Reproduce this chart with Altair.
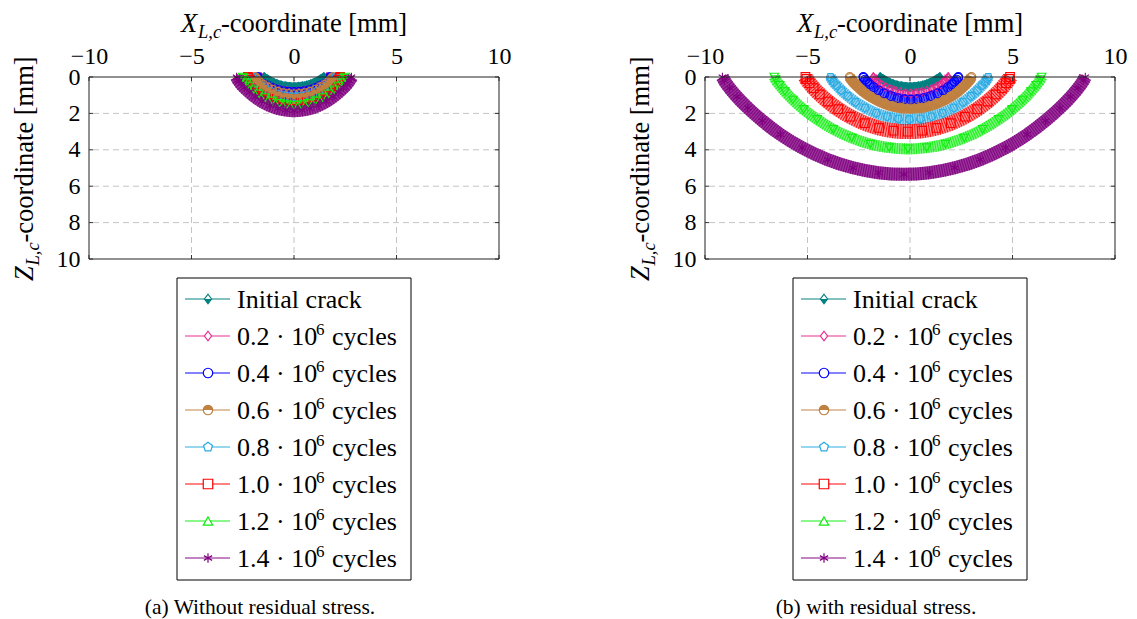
import altair as alt
import pandas as pd

# ---------------- data ----------------
SERIES = ["init", "c02", "c04", "c06", "c08", "c10", "c12", "c14"]
LEG_MAIN = ["Initial crack", "0.2 · 10", "0.4 · 10", "0.6 · 10", "0.8 · 10", "1.0 · 10", "1.2 · 10", "1.4 · 10"]
LEG_SUP = ["", "6", "6", "6", "6", "6", "6", "6"]
LEG_TAIL = ["", "cycles", "cycles", "cycles", "cycles", "cycles", "cycles", "cycles"]
COLORS = ["#008080", "#e8288f", "#0000ff", "#bf8040", "#2aaae2", "#ff0000", "#10ee10", "#800080"]

X_TICKS = [-10, -5, 0, 5, 10]
Y_TICKS = [0, 2, 4, 6, 8, 10]
X_GRID = [-5, 0, 5]
Y_GRID = [2, 4, 6, 8]

# panel (a): without residual stress
PA_X0 = [-1.46, -1.45, -1.40, -1.34, -1.26, -1.14, -0.99, -0.82, -0.61, -0.41, -0.20, 0.00, 0.20, 0.41, 0.61, 0.82, 0.99, 1.14, 1.26, 1.34, 1.40, 1.45, 1.46]
PA_Z0 = [0.00, 0.02, 0.06, 0.11, 0.18, 0.25, 0.32, 0.40, 0.47, 0.51, 0.54, 0.55, 0.54, 0.51, 0.47, 0.40, 0.32, 0.25, 0.18, 0.11, 0.06, 0.02, 0.00]
PA_X1 = [-1.62, -1.60, -1.56, -1.49, -1.39, -1.26, -1.10, -0.91, -0.68, -0.45, -0.23, 0.00, 0.23, 0.45, 0.68, 0.91, 1.10, 1.26, 1.39, 1.49, 1.56, 1.60, 1.62]
PA_Z1 = [0.00, 0.02, 0.08, 0.14, 0.22, 0.31, 0.40, 0.49, 0.58, 0.63, 0.67, 0.68, 0.67, 0.63, 0.58, 0.49, 0.40, 0.31, 0.22, 0.14, 0.08, 0.02, 0.00]
PA_X2 = [-1.76, -1.74, -1.69, -1.62, -1.51, -1.37, -1.20, -0.99, -0.74, -0.49, -0.25, 0.00, 0.25, 0.49, 0.74, 0.99, 1.20, 1.37, 1.51, 1.62, 1.69, 1.74, 1.76]
PA_Z2 = [0.00, 0.03, 0.09, 0.17, 0.26, 0.37, 0.48, 0.60, 0.70, 0.77, 0.81, 0.82, 0.81, 0.77, 0.70, 0.60, 0.48, 0.37, 0.26, 0.17, 0.09, 0.03, 0.00]
PA_X3 = [-1.90, -1.88, -1.82, -1.75, -1.63, -1.48, -1.29, -1.06, -0.80, -0.53, -0.27, 0.00, 0.27, 0.53, 0.80, 1.06, 1.29, 1.48, 1.63, 1.75, 1.82, 1.88, 1.90]
PA_Z3 = [0.00, 0.03, 0.11, 0.19, 0.30, 0.43, 0.56, 0.69, 0.81, 0.89, 0.93, 0.95, 0.93, 0.89, 0.81, 0.69, 0.56, 0.43, 0.30, 0.19, 0.11, 0.03, 0.00]
PA_X4 = [-2.05, -2.03, -1.97, -1.89, -1.76, -1.60, -1.39, -1.15, -0.86, -0.57, -0.29, 0.00, 0.29, 0.57, 0.86, 1.15, 1.39, 1.60, 1.76, 1.89, 1.97, 2.03, 2.05]
PA_Z4 = [0.00, 0.04, 0.12, 0.22, 0.34, 0.49, 0.64, 0.78, 0.92, 1.01, 1.06, 1.08, 1.06, 1.01, 0.92, 0.78, 0.64, 0.49, 0.34, 0.22, 0.12, 0.04, 0.00]
PA_X5 = [-2.25, -2.23, -2.16, -2.07, -1.94, -1.76, -1.53, -1.26, -0.95, -0.63, -0.32, 0.00, 0.32, 0.63, 0.95, 1.26, 1.53, 1.76, 1.94, 2.07, 2.16, 2.23, 2.25]
PA_Z5 = [0.00, 0.05, 0.15, 0.26, 0.41, 0.58, 0.76, 0.93, 1.09, 1.19, 1.26, 1.28, 1.26, 1.19, 1.09, 0.93, 0.76, 0.58, 0.41, 0.26, 0.15, 0.05, 0.00]
PA_X6 = [-2.50, -2.48, -2.40, -2.30, -2.15, -1.95, -1.70, -1.40, -1.05, -0.70, -0.35, 0.00, 0.35, 0.70, 1.05, 1.40, 1.70, 1.95, 2.15, 2.30, 2.40, 2.48, 2.50]
PA_Z6 = [0.00, 0.06, 0.18, 0.32, 0.49, 0.70, 0.92, 1.13, 1.31, 1.45, 1.52, 1.55, 1.52, 1.45, 1.31, 1.13, 0.92, 0.70, 0.49, 0.32, 0.18, 0.06, 0.00]
PA_X7 = [-2.80, -2.77, -2.69, -2.58, -2.41, -2.18, -1.90, -1.57, -1.18, -0.78, -0.39, 0.00, 0.39, 0.78, 1.18, 1.57, 1.90, 2.18, 2.41, 2.58, 2.69, 2.77, 2.80]
PA_Z7 = [0.00, 0.07, 0.21, 0.38, 0.59, 0.83, 1.09, 1.34, 1.57, 1.73, 1.82, 1.85, 1.82, 1.73, 1.57, 1.34, 1.09, 0.83, 0.59, 0.38, 0.21, 0.07, 0.00]

# panel (b): with residual stress
PB_X0 = [-1.46, -1.45, -1.40, -1.34, -1.26, -1.14, -0.99, -0.82, -0.61, -0.41, -0.20, 0.00, 0.20, 0.41, 0.61, 0.82, 0.99, 1.14, 1.26, 1.34, 1.40, 1.45, 1.46]
PB_Z0 = [0.00, 0.02, 0.06, 0.11, 0.18, 0.25, 0.32, 0.40, 0.47, 0.51, 0.54, 0.55, 0.54, 0.51, 0.47, 0.40, 0.32, 0.25, 0.18, 0.11, 0.06, 0.02, 0.00]
PB_X1 = [-1.79, -1.77, -1.72, -1.64, -1.53, -1.39, -1.20, -0.99, -0.73, -0.47, -0.22, 0.04, 0.30, 0.55, 0.81, 1.07, 1.28, 1.47, 1.61, 1.72, 1.80, 1.85, 1.87]
PB_Z1 = [0.00, 0.03, 0.10, 0.18, 0.29, 0.41, 0.53, 0.65, 0.76, 0.84, 0.89, 0.90, 0.89, 0.84, 0.76, 0.65, 0.53, 0.41, 0.29, 0.18, 0.10, 0.03, 0.00]
PB_X2 = [-2.28, -2.26, -2.19, -2.09, -1.96, -1.77, -1.54, -1.26, -0.93, -0.61, -0.29, 0.04, 0.37, 0.69, 1.01, 1.34, 1.62, 1.85, 2.04, 2.17, 2.27, 2.34, 2.36]
PB_Z2 = [0.00, 0.04, 0.14, 0.25, 0.40, 0.56, 0.73, 0.90, 1.05, 1.16, 1.22, 1.24, 1.22, 1.16, 1.05, 0.90, 0.73, 0.56, 0.40, 0.25, 0.14, 0.04, 0.00]
PB_X3 = [-2.94, -2.91, -2.82, -2.70, -2.52, -2.29, -1.99, -1.63, -1.22, -0.80, -0.39, 0.03, 0.45, 0.86, 1.28, 1.69, 2.05, 2.35, 2.58, 2.76, 2.88, 2.97, 3.00]
PB_Z3 = [0.00, 0.06, 0.20, 0.35, 0.55, 0.78, 1.02, 1.25, 1.46, 1.61, 1.69, 1.72, 1.69, 1.61, 1.46, 1.25, 1.02, 0.78, 0.55, 0.35, 0.20, 0.06, 0.00]
PB_X4 = [-3.88, -3.84, -3.73, -3.57, -3.34, -3.03, -2.65, -2.19, -1.65, -1.11, -0.57, -0.03, 0.51, 1.05, 1.59, 2.13, 2.59, 2.97, 3.28, 3.51, 3.67, 3.78, 3.82]
PB_Z4 = [0.00, 0.08, 0.27, 0.47, 0.74, 1.05, 1.38, 1.69, 1.98, 2.17, 2.29, 2.33, 2.29, 2.17, 1.98, 1.69, 1.38, 1.05, 0.74, 0.47, 0.27, 0.08, 0.00]
PB_X5 = [-5.10, -5.05, -4.90, -4.70, -4.40, -4.00, -3.50, -2.90, -2.21, -1.51, -0.81, -0.11, 0.59, 1.29, 1.99, 2.68, 3.28, 3.78, 4.18, 4.48, 4.68, 4.83, 4.88]
PB_Z5 = [0.00, 0.11, 0.34, 0.61, 0.96, 1.35, 1.77, 2.18, 2.54, 2.80, 2.95, 3.00, 2.95, 2.80, 2.54, 2.18, 1.77, 1.35, 0.96, 0.61, 0.34, 0.11, 0.00]
PB_X6 = [-6.62, -6.56, -6.36, -6.10, -5.71, -5.19, -4.53, -3.75, -2.84, -1.93, -1.01, -0.10, 0.81, 1.73, 2.64, 3.55, 4.33, 4.99, 5.51, 5.90, 6.16, 6.36, 6.42]
PB_Z6 = [0.00, 0.14, 0.45, 0.80, 1.26, 1.78, 2.33, 2.87, 3.35, 3.69, 3.88, 3.95, 3.88, 3.69, 3.35, 2.87, 2.33, 1.78, 1.26, 0.80, 0.45, 0.14, 0.00]
PB_X7 = [-9.15, -9.06, -8.80, -8.44, -7.91, -7.20, -6.32, -5.26, -4.02, -2.78, -1.54, -0.30, 0.94, 2.18, 3.42, 4.66, 5.72, 6.60, 7.31, 7.84, 8.20, 8.46, 8.55]
PB_Z7 = [0.00, 0.19, 0.61, 1.09, 1.70, 2.41, 3.16, 3.89, 4.54, 4.99, 5.26, 5.35, 5.26, 4.99, 4.54, 3.89, 3.16, 2.41, 1.70, 1.09, 0.61, 0.19, 0.00]

CAPTION_A = "(a) Without residual stress."
CAPTION_B = "(b) with residual stress."

# ---------------- styling ----------------
FONT = "Liberation Serif"
W, H = 410, 182

DIAMOND = "M0,-1L0.75,0L0,1L-0.75,0Z"
PENT_UP = "M0,-1L0.951,-0.309L0.588,0.809L-0.588,0.809L-0.951,-0.309Z"
PENT_DOWN = "M0,1L0.951,0.309L0.588,-0.809L-0.588,-0.809L-0.951,0.309Z"
ASTER = "M0,-1L0,1M-0.866,-0.5L0.866,0.5M-0.866,0.5L0.866,-0.5"
HALF_DIA_TOP = "M-0.75,0L0,-1L0.75,0Z"
HALF_DIA_BOT = "M-0.75,0L0,1L0.75,0Z"
HALF_CIR_TOP = "M-1,0A1,1,0,0,1,1,0Z"
HALF_CIR_BOT = "M-1,0A1,1,0,0,0,1,0Z"

DATA_SHAPES = [DIAMOND, DIAMOND, "circle", "circle", PENT_DOWN, "square", "triangle-down", ASTER]
LEG_SHAPES = [DIAMOND, DIAMOND, "circle", "circle", PENT_UP, "square", "triangle-up", ASTER]
LEG_HALF = [HALF_DIA_BOT, "", "", HALF_CIR_TOP, "", "", "", ""]
BAND_W = [9, 9, 10, 11, 11, 15, 11, 13]
BAND_OPA = [0.9, 0.5, 0.6, 0.95, 0.5, 0.45, 0.55, 0.8]

XS = alt.Scale(domain=[-10, 10], nice=False, zero=False)
YS = alt.Scale(domain=[0, 10], nice=False, zero=False, reverse=True)
XA = alt.Axis(orient="top", values=X_TICKS, title=None, grid=False, ticks=False, domain=False,
              labelFont=FONT, labelFontSize=24, labelColor="black", labelPadding=9,
              format="d", labelFlush=False, labelOverlap=False)
YA = alt.Axis(orient="left", values=Y_TICKS, title=None, grid=False, ticks=False, domain=False,
              labelFont=FONT, labelFontSize=24, labelColor="black", labelPadding=9,
              format="d", labelFlush=False, labelOverlap=False)

ONE = pd.DataFrame({"o": [0]})


def curves_df(xs, zs):
    frames = []
    for s, x, z in zip(SERIES, xs, zs):
        frames.append(pd.DataFrame({"s": s, "x": x, "z": z, "k": list(range(len(x)))}))
    return pd.concat(frames, ignore_index=True)


def text_layer(txt, x, y, size, align="left", angle=0, italic=False, dy=0):
    kw = dict(align=align, baseline="alphabetic", font=FONT, fontSize=size, color="black", dy=dy)
    if angle:
        kw["angle"] = angle
    if italic:
        kw["fontStyle"] = "italic"
    return alt.Chart(pd.DataFrame({"t": [txt]})).mark_text(**kw).encode(
        x=alt.value(x), y=alt.value(y), text="t:N")


def panel(xs, zs, caption):
    df = curves_df(xs, zs)
    ex = alt.X("x:Q", scale=XS, axis=XA)
    ey = alt.Y("z:Q", scale=YS, axis=YA)
    ecol = alt.Color("s:N", scale=alt.Scale(domain=SERIES, range=COLORS), legend=None)

    grid_x = alt.Chart(pd.DataFrame({"v": X_GRID})).mark_rule(
        color="#c4c4c4", strokeDash=[6, 4], strokeWidth=1).encode(x=alt.X("v:Q", scale=XS, axis=XA))
    grid_y = alt.Chart(pd.DataFrame({"v": Y_GRID})).mark_rule(
        color="#c4c4c4", strokeDash=[6, 4], strokeWidth=1).encode(y=alt.Y("v:Q", scale=YS, axis=YA))

    curve_layers = []
    for i, s in enumerate(SERIES):
        sub = alt.Chart(df).transform_filter(alt.datum.s == s)
        curve_layers.append(sub.mark_line(
            interpolate="monotone", strokeCap="butt", color=COLORS[i],
            strokeWidth=BAND_W[i], opacity=BAND_OPA[i]).encode(ex, ey, order="k:Q"))
        curve_layers.append(sub.mark_line(
            interpolate="monotone", strokeCap="butt", color=COLORS[i],
            strokeWidth=BAND_W[i], strokeDash=[1, 1.4], opacity=0.9).encode(ex, ey, order="k:Q"))

    pts = alt.Chart(df).mark_point(filled=False, size=75, strokeWidth=1.1, opacity=1).encode(
        ex, ey, ecol,
        shape=alt.Shape("s:N", scale=alt.Scale(domain=SERIES, range=DATA_SHAPES), legend=None))
    half0 = alt.Chart(df).transform_filter(alt.datum.s == SERIES[0]).mark_point(
        filled=True, size=75, shape=HALF_DIA_TOP, color=COLORS[0], opacity=1).encode(ex, ey)
    half3 = alt.Chart(df).transform_filter(alt.datum.s == SERIES[3]).mark_point(
        filled=True, size=75, shape=HALF_CIR_BOT, color=COLORS[3], opacity=1).encode(ex, ey)

    tdx = pd.DataFrame({"v": X_TICKS})
    tdy = pd.DataFrame({"v": Y_TICKS})
    tk = dict(color="#333333", strokeWidth=1)
    t_top = alt.Chart(tdx).mark_rule(**tk).encode(x=alt.X("v:Q", scale=XS, axis=XA), y=alt.value(0), y2=alt.value(4))
    t_bot = alt.Chart(tdx).mark_rule(**tk).encode(x=alt.X("v:Q", scale=XS, axis=XA), y=alt.value(H - 4), y2=alt.value(H))
    t_lft = alt.Chart(tdy).mark_rule(**tk).encode(y=alt.Y("v:Q", scale=YS, axis=YA), x=alt.value(0), x2=alt.value(4))
    t_rgt = alt.Chart(tdy).mark_rule(**tk).encode(y=alt.Y("v:Q", scale=YS, axis=YA), x=alt.value(W - 4), x2=alt.value(W))
    frame = alt.Chart(ONE).mark_rect(fillOpacity=0, stroke="#222222", strokeWidth=1).encode(
        x=alt.value(0), x2=alt.value(W), y=alt.value(0), y2=alt.value(H))

    data_group = alt.layer(grid_x, grid_y, *curve_layers, pts, half0, half3,
                           t_top, t_bot, t_lft, t_rgt, frame)

    # legend + titles + caption (layout elements)
    leg = pd.DataFrame({"row": list(range(8)), "t1": LEG_MAIN, "t2": LEG_SUP, "t3": LEG_TAIL,
                        "col": COLORS, "shp": LEG_SHAPES, "half": LEG_HALF})
    ly = alt.Y("row:Q", scale=alt.Scale(domain=[0, 7], range=[222, 481], nice=False, zero=False), axis=None)
    box = alt.Chart(ONE).mark_rect(fill="white", stroke="black", strokeWidth=1).encode(
        x=alt.value(88), x2=alt.value(322), y=alt.value(201), y2=alt.value(503))
    lline = alt.Chart(leg).mark_rule(strokeWidth=1.5, opacity=0.65).encode(
        x=alt.value(96), x2=alt.value(141), y=ly, color=alt.Color("col:N", scale=None))
    lmark = alt.Chart(leg).mark_point(filled=True, fill="white", size=90, strokeWidth=1.2, opacity=1).encode(
        x=alt.value(119), y=ly, stroke=alt.Stroke("col:N", scale=None), shape=alt.Shape("shp:N", scale=None))
    lhalf = alt.Chart(leg).transform_filter("datum.half != ''").mark_point(
        filled=True, size=90, strokeOpacity=0, opacity=1).encode(
        x=alt.value(119), y=ly, fill=alt.Fill("col:N", scale=None), shape=alt.Shape("half:N", scale=None))
    lt1 = alt.Chart(leg).mark_text(align="left", baseline="alphabetic", font=FONT, fontSize=26,
                                   dy=9, color="black").encode(x=alt.value(148), y=ly, text="t1:N")
    lt2 = alt.Chart(leg).mark_text(align="left", baseline="alphabetic", font=FONT, fontSize=17,
                                   dy=-1, color="black").encode(x=alt.value(227), y=ly, text="t2:N")
    lt3 = alt.Chart(leg).mark_text(align="left", baseline="alphabetic", font=FONT, fontSize=26,
                                   dy=9, color="black").encode(x=alt.value(243), y=ly, text="t3:N")

    cap = text_layer(caption, 171, 537, 21.5, align="center")
    xt1 = text_layer("X", 92, -45, 26.5, italic=True)
    xt2 = text_layer("L,c", 109, -45, 18.5, italic=True, dy=6)
    xt3 = text_layer("-coordinate [mm]", 132, -45, 26.5)
    yt1 = text_layer("Z", -56, 204, 26.5, angle=270, italic=True)
    yt2 = text_layer("L,c", -56, 188.5, 18.5, angle=270, italic=True, dy=6)
    yt3 = text_layer("-coordinate [mm]", -56, 165.5, 26.5, angle=270)

    deco = alt.layer(box, lline, lmark, lhalf, lt1, lt2, lt3, cap, xt1, xt2, xt3, yt1, yt2, yt3)

    return alt.layer(data_group, deco).resolve_scale(
        x="independent", y="independent", color="independent", shape="independent",
        stroke="independent", fill="independent"
    ).properties(width=W, height=H)


pa = panel([PA_X0, PA_X1, PA_X2, PA_X3, PA_X4, PA_X5, PA_X6, PA_X7],
           [PA_Z0, PA_Z1, PA_Z2, PA_Z3, PA_Z4, PA_Z5, PA_Z6, PA_Z7], CAPTION_A)
pb = panel([PB_X0, PB_X1, PB_X2, PB_X3, PB_X4, PB_X5, PB_X6, PB_X7],
           [PB_Z0, PB_Z1, PB_Z2, PB_Z3, PB_Z4, PB_Z5, PB_Z6, PB_Z7], CAPTION_B)

chart = alt.hconcat(pa, pb, spacing=206, bounds="flush").properties(
    padding={"left": 3, "top": 3, "right": 0, "bottom": 0}
).configure_view(stroke=None)

chart.save("out.html", embed_options={"renderer": "svg", "actions": False})
